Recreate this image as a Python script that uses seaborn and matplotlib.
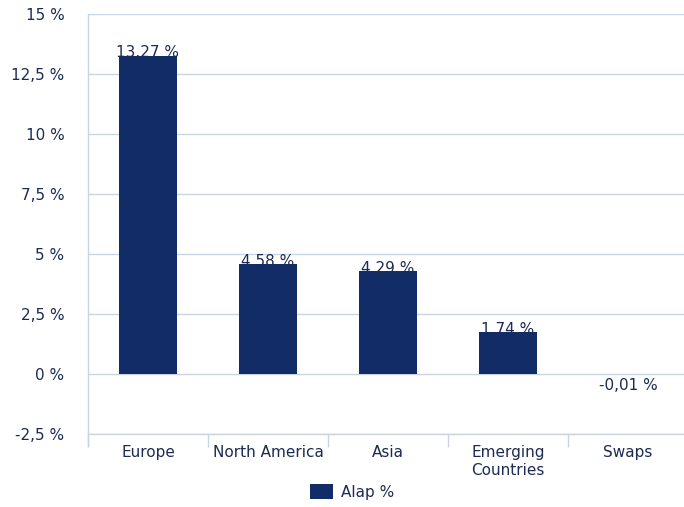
import pandas as pd
import matplotlib.pyplot as plt
import seaborn as sns

# ---- Data ----
categories = ["Europe", "North America", "Asia", "Emerging\nCountries", "Swaps"]
values = [13.27, 4.58, 4.29, 1.74, -0.01]
y_ticks = [-2.5, 0, 2.5, 5, 7.5, 10, 12.5, 15]
y_tick_labels = ["-2,5 %", "0 %", "2,5 %", "5 %", "7,5 %", "10 %", "12,5 %", "15 %"]
series_name = "Alap %"

df = pd.DataFrame({"category": categories, "value": values})

# ---- Style ----
sns.set_theme(style="white")
plt.rcParams["font.family"] = ["DejaVu Sans"]
bar_color = "#112c66"
text_color = "#1c2a55"
grid_color = "#c9d4e2"
fs = 11

fig = plt.figure(figsize=(6.84, 5.07), dpi=100)
ax = fig.add_axes([88 / 684, 1 - 434 / 507, 600 / 684, 420 / 507])

sns.barplot(data=df, x="category", y="value", color=bar_color,
            saturation=1, width=0.48, linewidth=0, label=series_name, ax=ax)

ax.set_xlim(-0.5, len(categories) - 0.5)
ax.set_ylim(-2.5, 15)
ax.set_yticks(y_ticks)
ax.set_yticklabels(y_tick_labels)
ax.yaxis.grid(True, color=grid_color, linewidth=1)
ax.set_axisbelow(True)
ax.set_xlabel("")
ax.set_ylabel("")

for side in ["top", "right", "bottom"]:
    ax.spines[side].set_visible(False)
ax.spines["left"].set_color(grid_color)
ax.spines["left"].set_linewidth(1)
ax.spines["left"].set_bounds(-3.0, 15)

# category separators below the axis
ax.set_xticks([i - 0.5 for i in range(len(categories) + 1)], minor=True)
ax.tick_params(axis="x", which="minor", length=9, color=grid_color, width=1, bottom=True)
ax.tick_params(axis="x", which="major", length=0, pad=8, labelsize=fs, labelcolor=text_color)
ax.tick_params(axis="y", length=0, pad=17, labelsize=fs, labelcolor=text_color)
ax.axhline(-2.5, color=grid_color, linewidth=1, clip_on=False)

# ---- Data labels ----
for i, v in enumerate(values):
    label = f"{v:.2f} %" if v >= 0 else f"{v:.2f} %".replace(".", ",")
    offset = 2 if v >= 0 else -8
    ax.annotate(label, (i, v), xytext=(0, offset), textcoords="offset points",
                ha="center", va="center", fontsize=fs, color=text_color)

leg = ax.legend(loc="center", bbox_to_anchor=(352 / 684, 1 - 492 / 507),
                bbox_transform=fig.transFigure, frameon=False, fontsize=fs,
                handlelength=1.5, handleheight=1.1, handletextpad=0.5)
for t in leg.get_texts():
    t.set_color(text_color)

plt.savefig("out.png", dpi=100)
